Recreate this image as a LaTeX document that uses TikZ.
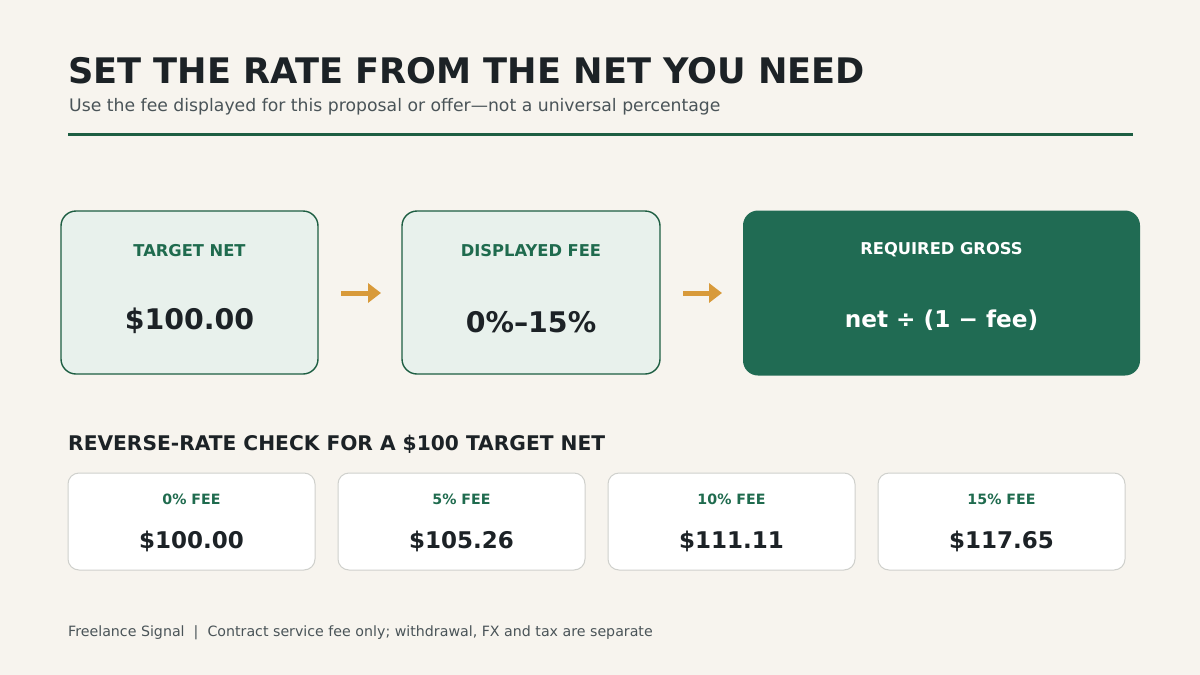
\documentclass[tikz,border=0pt]{standalone}
\usepackage{fontspec}
\setmainfont{DejaVu Sans}
\usetikzlibrary{arrows.meta}
\definecolor{bg}{HTML}{F7F4EE}
\definecolor{ink}{HTML}{1C2226}
\definecolor{sub}{HTML}{4A5458}
\definecolor{dgreen}{HTML}{1F6B4E}
\definecolor{rule}{HTML}{1D5E42}
\definecolor{pale}{HTML}{E8F1EC}
\definecolor{deep}{HTML}{206B53}
\definecolor{arr}{HTML}{D89A3A}
\definecolor{cardline}{HTML}{CFD0CC}
\tikzset{
  flowbox/.style={draw=rule, line width=1.4pt, fill=pale, rounded corners=15pt},
  darkbox/.style={fill=deep, rounded corners=15pt},
  card/.style={draw=cardline, line width=1pt, fill=white, rounded corners=11pt},
  flowlabel/.style={font=\bfseries\fontsize{16.3}{19}\selectfont, text=dgreen},
  flowvalue/.style={font=\bfseries\fontsize{28.4}{32}\selectfont, text=ink},
  cardlabel/.style={font=\bfseries\fontsize{14.2}{17}\selectfont, text=dgreen},
  cardvalue/.style={font=\bfseries\fontsize{23}{27}\selectfont, text=ink},
  flowarrow/.style={draw=arr, line width=5pt, -{Triangle[length=13pt,width=19pt]}},
}
\begin{document}
\begin{tikzpicture}[x=1pt,y=-1pt]
\fill[bg] (0,0) rectangle (1200,675);
\useasboundingbox (0,0) rectangle (1200,675);
% title
\node[anchor=base west, inner sep=0, text=ink, font=\bfseries\fontsize{35.2}{40}\selectfont] (title) at (68,83) {SET THE RATE FROM THE NET YOU NEED};
\node[anchor=base west, inner sep=0, text=sub, font=\fontsize{17.25}{20}\selectfont] (subtitle) at (69,111) {Use the fee displayed for this proposal or offer—not a universal percentage};
\draw[rule, line width=3pt] (68,134) -- (1133,134);
% flow boxes
\node[flowbox, minimum width=257pt, minimum height=163pt, inner sep=0] (b1) at (189.5,292.5) {};
\node[flowbox, minimum width=258pt, minimum height=163pt, inner sep=0] (b2) at (531,292.5) {};
\node[darkbox, minimum width=397pt, minimum height=165pt, inner sep=0] (b3) at (941.5,293) {};
\node[flowlabel] (l1) at (189.5,251) {TARGET NET};
\node[flowvalue] (v1) at (189.5,321) {\$100.00};
\node[flowlabel] (l2) at (531,251) {DISPLAYED FEE};
\node[flowvalue] (v2) at (531,322) {0\%–15\%};
\node[flowlabel, text=white] (l3) at (941.5,250) {REQUIRED GROSS};
\node[flowvalue, text=white, font=\bfseries\fontsize{23.2}{27}\selectfont] (v3) at (941.5,320) {net ÷ (1 − fee)};
\coordinate (a1s) at (341,293); \coordinate (a1e) at (381,293);
\coordinate (a2s) at (683,293); \coordinate (a2e) at (722,293);
\draw[flowarrow] (a1s) -- (a1e);
\draw[flowarrow] (a2s) -- (a2e);
% section
\node[anchor=base west, inner sep=0, text=ink, font=\bfseries\fontsize{20.2}{23}\selectfont] (sec) at (68,450) {REVERSE-RATE CHECK FOR A \$100 TARGET NET};
\foreach \i/\x/\p/\v in {1/191.5/0/100.00, 2/461.5/5/105.26, 3/731.5/10/111.11, 4/1001.5/15/117.65}{
  \node[card, minimum width=247pt, minimum height=97pt, inner sep=0] (c\i) at (\x,521.5) {};
  \node[cardlabel] (cl\i) at (\x,499.5) {\p\% FEE};
  \node[cardvalue] (cv\i) at (\x,541) {\$\v};
}
% footer
\node[anchor=base west, inner sep=0, text=sub, font=\fontsize{14.2}{17}\selectfont] (foot) at (68,636) {Freelance Signal \ |\ \ Contract service fee only; withdrawal, FX and tax are separate};
\end{tikzpicture}
\end{document}
